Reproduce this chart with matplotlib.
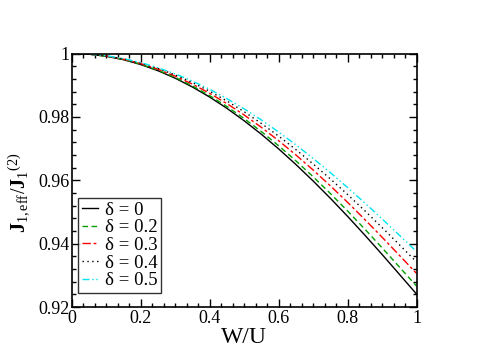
import matplotlib
matplotlib.use("Agg")
import matplotlib.pyplot as plt
from matplotlib.ticker import MultipleLocator

plt.rcParams['font.family'] = ['Liberation Serif', 'DejaVu Serif']
plt.rcParams['mathtext.fontset'] = 'custom'
plt.rcParams['mathtext.rm'] = 'Liberation Serif'
plt.rcParams['mathtext.it'] = 'Liberation Serif'
plt.rcParams['mathtext.bf'] = 'Liberation Serif:bold'

w = [0.0, 0.05, 0.1, 0.15, 0.2, 0.25, 0.3, 0.35, 0.4, 0.45, 0.5,
     0.55, 0.6, 0.65, 0.7, 0.75, 0.8, 0.85, 0.9, 0.95, 1.0]

j_d0 = [1.0, 0.99978, 0.99912, 0.99803, 0.99650, 0.99455, 0.99218, 0.98940,
        0.98623, 0.98267, 0.97875, 0.97448, 0.96988, 0.96496, 0.95976,
        0.95430, 0.94860, 0.94268, 0.93659, 0.93035, 0.92410]
j_d02 = [1.0, 0.99979, 0.99915, 0.99810, 0.99662, 0.99473, 0.99244, 0.98975,
         0.98668, 0.98324, 0.97945, 0.97532, 0.97087, 0.96612, 0.96109,
         0.95581, 0.95030, 0.94457, 0.93868, 0.93266, 0.92660]
j_d03 = [1.0, 0.99980, 0.99920, 0.99820, 0.99680, 0.99502, 0.99285, 0.99031,
         0.98741, 0.98416, 0.98058, 0.97667, 0.97247, 0.96797, 0.96322,
         0.95823, 0.95302, 0.94761, 0.94204, 0.93634, 0.93060]
j_d04 = [1.0, 0.99981, 0.99924, 0.99829, 0.99697, 0.99528, 0.99323, 0.99082,
         0.98807, 0.98499, 0.98160, 0.97790, 0.97392, 0.96966, 0.96515,
         0.96042, 0.95549, 0.95036, 0.94509, 0.93968, 0.93420]
j_d05 = [1.0, 0.99982, 0.99928, 0.99838, 0.99712, 0.99551, 0.99356, 0.99128,
         0.98867, 0.98574, 0.98251, 0.97900, 0.97521, 0.97116, 0.96688,
         0.96239, 0.95770, 0.95283, 0.94781, 0.94268, 0.93750]

labels = [r'δ = 0', r'δ = 0.2', r'δ = 0.3', r'δ = 0.4', r'δ = 0.5']
x_ticks = [0, 0.2, 0.4, 0.6, 0.8, 1]
x_tick_labels = ['0', '0.2', '0.4', '0.6', '0.8', '1']
y_ticks = [0.92, 0.94, 0.96, 0.98, 1.0]
y_tick_labels = ['0.92', '0.94', '0.96', '0.98', '1']

fig = plt.figure(figsize=(4.98, 3.52), dpi=100)
ax = fig.add_axes([0.1446, 0.1278, 0.6918, 0.7202])

series = [j_d0, j_d02, j_d03, j_d04, j_d05]
colors = ['black', '#00a000', '#ff0000', 'black', '#00e5ee']
styles = ['-', (0, (4, 2.5)), (0, (6, 2, 2, 2)), (0, (1, 2.5)), (0, (5, 2, 1, 2, 1, 2))]
for ys, c, ls, lab in zip(series, colors, styles, labels):
    ax.plot(w, ys, color=c, linestyle=ls, linewidth=1.0, label=lab)

ax.set_xlim(0, 1)
ax.set_ylim(0.92, 1.0)
ax.set_xticks(x_ticks)
ax.set_xticklabels(x_tick_labels)
ax.set_yticks(y_ticks)
ax.set_yticklabels(y_tick_labels)
ax.xaxis.set_minor_locator(MultipleLocator(0.2 / 6))
ax.yaxis.set_minor_locator(MultipleLocator(0.004))
ax.tick_params(which='both', direction='in', top=True, right=True, labelsize=13, pad=2)
ax.tick_params(which='major', length=6, width=1)
ax.tick_params(which='minor', length=3, width=1)
for sp in ax.spines.values():
    sp.set_linewidth(1.2)

ax.set_xlabel('W/U', fontsize=17, labelpad=0)
ax.set_ylabel(r'$\mathbf{J}_{1,\mathrm{eff}}/\mathbf{J}_{1}{}^{(2)}$', fontsize=14.5)
ax.yaxis.set_label_coords(-0.115, 0.45)

leg = ax.legend(loc='lower left', bbox_to_anchor=(0.017, 0.055), fontsize=13.5,
                frameon=True, fancybox=False, handlelength=0.85, handletextpad=0.4,
                borderpad=0.2, labelspacing=0.03, borderaxespad=0.0)
leg.get_frame().set_edgecolor('black')
leg.get_frame().set_linewidth(1.0)

fig.savefig('out.png', dpi=100)
